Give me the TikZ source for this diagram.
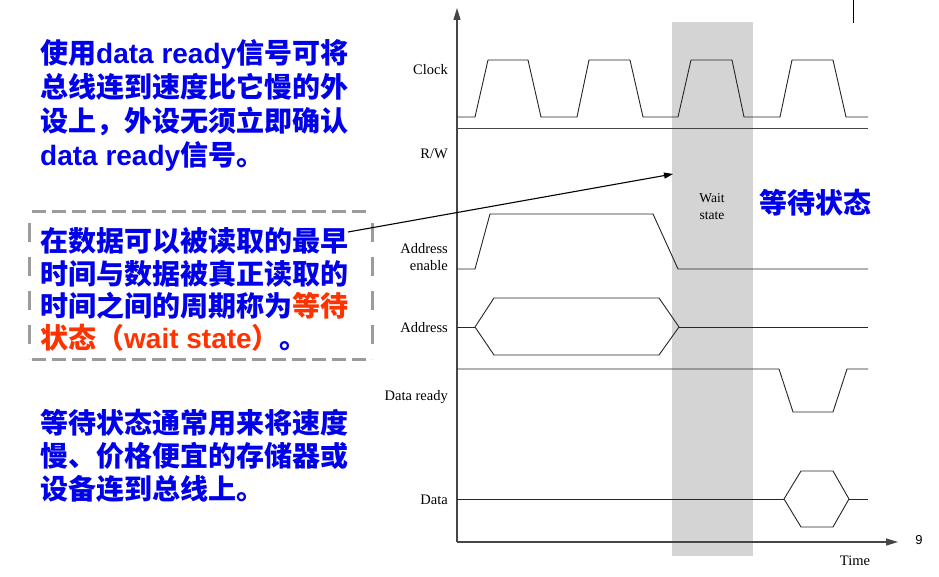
\documentclass[tikz,border=0pt]{standalone}
\usepackage{fontspec}
\setmainfont{Liberation Serif}
\newfontfamily\cjkfont{Noto Sans CJK SC}
\newfontfamily\latfont{Liberation Sans}
\usetikzlibrary{arrows.meta}
\definecolor{tblue}{RGB}{0,0,235}
\definecolor{tred}{RGB}{255,51,0}
\definecolor{band}{RGB}{212,212,212}
\definecolor{dashgray}{RGB}{155,155,155}
\definecolor{axisgray}{RGB}{70,70,70}
\newcommand\zhtxt[1]{{\cjkfont\bfseries #1}}
\newcommand\entxt[1]{{\latfont\bfseries #1}}
\begin{document}
\begin{tikzpicture}[x=1pt,y=-1pt,
  bigtext/.style={inner sep=0pt, anchor=base west, font=\fontsize{28}{28}\selectfont, text=tblue},
  siglabel/.style={inner sep=0pt, anchor=base east, font=\fontsize{14.5}{14.5}\selectfont},
  smalllabel/.style={inner sep=0pt, anchor=base, font=\fontsize{14.5}{14.5}\selectfont},
  sig/.style={line width=0.9pt, draw=black!85, line join=round},
  axisline/.style={line width=1.2pt, draw=axisgray},
  boxedge/.style={line width=3pt, draw=dashgray}]
\useasboundingbox (0,0) rectangle (939,577);
\fill[white] (0,0) rectangle (939,577);

% wait state band
\fill[band] (672,22) rectangle (753,556);

% top-right tick
\draw[line width=1pt] (853,0) -- (853,23);

% axes
\coordinate (origin) at (457,542);
\coordinate (ytip) at (457,8);
\coordinate (xtip) at (898,542);
\draw[axisline, -{Triangle[length=12pt,width=7pt]}] (origin) -- (ytip);
\draw[axisline, -{Triangle[length=12pt,width=7pt]}] (origin) -- (xtip);

% Clock
\draw[sig] (457,117) -- (475,117) -- (488,60) -- (528,60) -- (541,117) -- (577,117)
  -- (589,60) -- (630,60) -- (643,117) -- (678,117) -- (691,60) -- (732,60) -- (744,117)
  -- (780,117) -- (792,60) -- (833,60) -- (846,117) -- (868,117);
% R/W
\draw[sig, draw=axisgray] (457,128) -- (868,128);
% Address enable
\draw[sig] (457,269) -- (475,269) -- (490,214) -- (653,214) -- (678,269) -- (868,269);
% Address bus
\draw[sig] (457,327) -- (475,327);
\draw[sig] (475,327) -- (494,298) -- (659,298) -- (679,327) -- (659,355) -- (494,355) -- cycle;
\draw[sig] (679,327) -- (868,327);
% Data ready
\draw[sig] (457,369) -- (779,369) -- (793,412) -- (833,412) -- (847,369) -- (868,369);
% Data
\draw[sig] (457,499) -- (784,499);
\draw[sig] (784,499) -- (801,471) -- (833,471) -- (849,499) -- (833,527) -- (801,527) -- cycle;
\draw[sig] (849,499) -- (868,499);

% signal labels
\node[siglabel] (lclock) at (448,75) {Clock};
\node[siglabel] (lrw) at (448,159) {R/W};
\node[siglabel] (lae1) at (448,254) {Address};
\node[siglabel] (lae2) at (448,270) {enable};
\node[siglabel] (laddr) at (448,332) {Address};
\node[siglabel] (ldr) at (448,400) {Data ready};
\node[siglabel] (ldata) at (448,504) {Data};
\node[smalllabel] (ltime) at (855,565) {Time};
\node[smalllabel, font=\fontsize{13.5}{13.5}\selectfont] (lws1) at (712,203) {Wait};
\node[smalllabel, font=\fontsize{13.5}{13.5}\selectfont] (lws2) at (712,220) {state};
\node[inner sep=0pt, anchor=base, font=\latfont\fontsize{13}{13}\selectfont] (pnum) at (919,544) {9};

% wait state title
\node[bigtext] (wstitle) at (759,214) {\zhtxt{等待状态}};

% text block 1
\node[bigtext] (t1a) at (40,64) {\zhtxt{使用}\entxt{data ready}\zhtxt{信号可将}};
\node[bigtext] (t1b) at (40,98) {\zhtxt{总线连到速度比它慢的外}};
\node[bigtext] (t1c) at (40,132) {\zhtxt{设上，外设无须立即确认}};
\node[bigtext] (t1d) at (40,166) {\entxt{data ready}\zhtxt{信号。}};

% dashed box
\draw[boxedge, dash pattern=on 14pt off 6pt, dash phase=17pt] (29,212) -- (372,212);
\draw[boxedge, dash pattern=on 14pt off 6pt, dash phase=17pt] (29,359) -- (372,359);
\draw[boxedge, dash pattern=on 19pt off 15pt, dash phase=23pt] (29,212) -- (29,359);
\draw[boxedge, dash pattern=on 19pt off 15pt, dash phase=23pt] (372,212) -- (372,359);

% text block 2
\node[bigtext] (t2a) at (40,252) {\zhtxt{在数据可以被读取的最早}};
\node[bigtext] (t2b) at (40,284) {\zhtxt{时间与数据被真正读取的}};
\node[bigtext] (t2c) at (40,316) {\zhtxt{时间之间的周期称为}\textcolor{tred}{\zhtxt{等待}}};
\node[bigtext] (t2d) at (40,348) {\textcolor{tred}{\zhtxt{状态（}\entxt{wait state}\zhtxt{）}}\zhtxt{。}};

% text block 3
\node[bigtext] (t3a) at (40,433) {\zhtxt{等待状态通常用来将速度}};
\node[bigtext] (t3b) at (40,466) {\zhtxt{慢、价格便宜的存储器或}};
\node[bigtext] (t3c) at (40,499) {\zhtxt{设备连到总线上。}};

% pointer arrow
\coordinate (arrstart) at (348,232);
\coordinate (arrtip) at (673,174);
\draw[line width=1.1pt, -{Triangle[length=9pt,width=6pt]}] (arrstart) -- (arrtip);
\end{tikzpicture}
\end{document}
